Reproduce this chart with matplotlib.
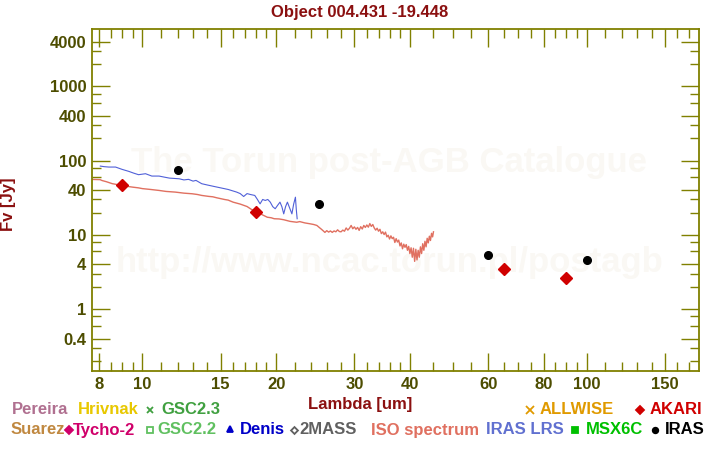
import matplotlib

matplotlib.use("Agg")
import matplotlib.pyplot as plt
from matplotlib.lines import Line2D
from matplotlib.ticker import FixedLocator, FixedFormatter, NullFormatter

# ISO spectrum
iso_wl = [7.7, 8.03, 8.11, 8.3, 8.55, 8.8, 9.16, 9.5, 9.8, 10.0, 10.4, 10.9, 11.3, 11.86,
          12.4, 12.94, 13.3, 13.6, 14.1, 14.4, 14.7, 15.3, 15.6, 16.0, 16.6, 17.2, 17.6,
          17.96, 18.5, 19.1, 19.5, 19.8, 20.3, 20.8, 21.5, 22.25, 22.6, 23.2, 23.85, 24.3,
          24.7,
          25.0, 25.25, 25.5, 25.75, 26.0, 26.25, 26.5, 26.75, 27.0, 27.25, 27.5, 27.75,
          28.0, 28.25, 28.5, 28.75, 29.0, 29.25, 29.5, 29.75, 30.0, 30.25, 30.5, 30.75,
          31.0, 31.25, 31.5, 31.75, 32.0, 32.25, 32.5, 32.75, 33.0, 33.25, 33.5, 33.75,
          34.0, 34.25, 34.5, 34.75, 35.0, 35.25, 35.5, 35.75, 36.0, 36.25, 36.5, 36.75,
          37.0, 37.25, 37.5, 37.75, 38.0, 38.25, 38.5, 38.75, 39.0, 39.25, 39.5, 39.75,
          40.0, 40.25, 40.5, 40.75, 41.0, 41.25, 41.5, 41.75, 42.0, 42.25, 42.5, 42.75,
          43.0, 43.25, 43.5, 43.75, 44.0, 44.25, 44.5, 44.75, 45.0, 45.2]
iso_fv = [55.9, 55.5, 54.0, 52.0, 49.0, 47.5, 45.4, 44.0, 43.0, 42.0, 41.0, 39.7, 38.5, 37.7,
          36.5, 35.8, 35.0, 34.0, 33.0, 32.6, 31.6, 30.0, 29.4, 27.6, 26.0, 24.1, 22.0,
          20.5, 19.0, 17.3, 17.0, 16.5, 16.4, 16.0, 15.2, 14.8, 15.1, 14.5, 14.1, 13.8,
          13.4,
          12.6, 12.0, 11.4, 10.8, 11.4, 10.9, 11.3, 10.8, 11.3, 11.0, 11.7, 11.1,
          11.0, 11.6, 11.2, 12.4, 11.6, 12.3, 13.4, 12.1, 12.8, 11.9, 12.6, 11.5,
          12.9, 12.0, 13.4, 12.6, 13.6, 12.7, 14.2, 13.0, 13.8, 12.4, 11.6, 12.3,
          11.2, 11.9, 10.4, 11.0, 10.1, 10.9, 9.4, 9.9, 8.8, 9.7, 8.9, 9.3,
          7.9, 8.9, 8.0, 8.5, 7.1, 7.8, 6.5, 7.5, 6.8, 7.4, 6.2, 7.0,
          5.6, 6.7, 5.0, 6.6, 4.4, 6.4, 4.6, 6.2, 5.0, 6.9, 5.6, 7.6,
          6.2, 8.2, 6.9, 9.0, 7.8, 9.6, 8.4, 10.5, 9.4, 11.0]

# IRAS LRS spectrum
lrs_wl = [8.04, 8.2, 8.4, 8.7, 9.0, 9.32, 9.55, 9.8, 10.16, 10.5, 10.9, 11.2, 11.5, 12.1,
          12.4, 12.7, 13.0, 13.2, 13.6, 14.0, 14.5, 15.0, 15.6, 16.3, 16.6, 16.9, 17.2,
          17.5, 17.9, 18.15, 18.4, 18.65, 18.9, 19.15, 19.4, 19.65, 19.9, 20.15, 20.4,
          20.6, 20.8, 21.0, 21.2, 21.45, 21.7, 21.9, 22.1, 22.2, 22.3]
lrs_fv = [84.5, 83.0, 82.0, 82.0, 76.3, 71.7, 68.0, 64.7, 66.7, 62.0, 62.0, 60.0, 58.2, 57.0,
          55.0, 56.0, 53.0, 54.2, 48.9, 47.0, 44.9, 43.0, 40.9, 37.7, 36.0, 32.9, 36.0,
          35.0, 34.0, 30.0, 26.2, 30.0, 29.1, 30.0, 27.6, 24.0, 22.5, 25.0, 27.6,
          24.0, 19.2, 24.0, 27.6, 23.0, 19.2, 26.0, 32.2, 22.0, 16.5]

# photometry
iras_wl = [12, 25, 60, 100]
iras_fv = [75.5, 26.2, 5.37, 4.59]
akari_wl = [9, 18, 65, 90]
akari_fv = [47.4, 20.5, 3.47, 2.62]

x_major = [8, 10, 15, 20, 30, 40, 60, 80, 100, 150]
x_minor = [8.5, 9, 9.5, 11, 12, 13, 14, 16, 17, 18, 19, 22, 24, 26, 28, 32, 34, 36, 38,
           45, 50, 55, 65, 70, 75, 85, 90, 95, 110, 120, 130, 140, 160, 170]
y_major = [0.4, 1, 4, 10, 40, 100, 400, 1000, 4000]
y_labels = ["0.4", "1", "4", "10", "40", "100", "400", "1000", "4000"]
y_minor = [0.2, 0.3, 0.6, 0.8, 2, 3, 6, 8, 20, 30, 60, 80, 200, 300, 600, 800, 2000, 3000]

FONT = ["Liberation Sans", "DejaVu Sans"]
plt.rcParams["font.family"] = FONT
plt.rcParams["font.weight"] = "bold"

OLIVE = "#808000"
LABEL = "#4d4d00"
DARKRED = "#8b1010"

fig = plt.figure(figsize=(7.2, 4.5), dpi=100)
ax = fig.add_axes([92 / 720, 1 - 371 / 450, (699 - 92) / 720, (371 - 29) / 450])

# watermark
ax.text(0.49, 0.61, "The Torun post-AGB Catalogue", transform=ax.transAxes, ha="center",
        va="center", fontsize=25, color="#faf8f4", zorder=0)
ax.text(0.49, 0.318, "http://www.ncac.torun.pl/postagb", transform=ax.transAxes, ha="center",
        va="center", fontsize=25, color="#faf8f4", zorder=0)

ax.plot(iso_wl, iso_fv, color="#e07060", lw=1.0, zorder=2)
ax.plot(lrs_wl, lrs_fv, color="#5060d8", lw=0.8, zorder=2)
ax.plot(iras_wl, iras_fv, "o", color="black", ms=5.5, zorder=3, ls="none")
ax.plot(akari_wl, akari_fv, "D", color="#d00000", ms=6, zorder=3, ls="none")

ax.set_xscale("log")
ax.set_yscale("log")
ax.set_xlim(7.7, 179)
ax.set_ylim(0.1466, 5940)

ax.xaxis.set_major_locator(FixedLocator(x_major))
ax.xaxis.set_major_formatter(FixedFormatter([str(v) for v in x_major]))
ax.xaxis.set_minor_locator(FixedLocator(x_minor))
ax.xaxis.set_minor_formatter(NullFormatter())
ax.yaxis.set_major_locator(FixedLocator(y_major))
ax.yaxis.set_major_formatter(FixedFormatter(y_labels))
ax.yaxis.set_minor_locator(FixedLocator(y_minor))
ax.yaxis.set_minor_formatter(NullFormatter())

ax.tick_params(which="both", direction="in", top=True, right=True, color=OLIVE,
               labelcolor=LABEL, labelsize=12)
ax.tick_params(which="major", length=13, width=1.0, pad=4)
ax.tick_params(which="minor", length=6.5, width=1.0)
for lab in ax.get_xticklabels() + ax.get_yticklabels():
    lab.set_fontweight("bold")
for sp in ax.spines.values():
    sp.set_color(OLIVE)
    sp.set_linewidth(1.3)

fig.text(360 / 720, 1 - 12 / 450, "Object 004.431 -19.448", ha="center", va="center",
         fontsize=12, fontweight="bold", color=DARKRED)
fig.text(360 / 720, 1 - 405 / 450, "Lambda [um]", ha="center", va="center",
         fontsize=12, fontweight="bold", color=DARKRED)
fig.text(9 / 720, 1 - 204 / 450, "Fv [Jy]", ha="center", va="center", rotation=90,
         fontsize=12, fontweight="bold", color=DARKRED)

# legend row texts: (label, left x px, centre y px, colour)
legend_items = [
    ("Pereira", 12, 410, "#b07090"),
    ("Hrivnak", 78, 410, "#e8c800"),
    ("GSC2.3", 161, 410, "#40a040"),
    ("ALLWISE", 540, 410, "#e09a00"),
    ("AKARI", 650, 410, "#d00000"),
    ("Suarez", 11, 430, "#c08840"),
    ("Tycho-2", 73, 430, "#d0006a"),
    ("GSC2.2", 157, 430, "#60c060"),
    ("Denis", 240, 430, "#0000c8"),
    ("2MASS", 299, 430, "#606060"),
    ("ISO spectrum", 371, 430, "#e07060"),
    ("IRAS LRS", 486, 430, "#6070d0"),
    ("MSX6C", 586, 430, "#00c000"),
    ("IRAS", 665, 430, "#000000"),
]
for name, x, y, c in legend_items:
    fig.text(x / 720, 1 - y / 450, name, ha="left", va="center", fontsize=12,
             fontweight="bold", color=c)

# legend symbols: (marker, x px, y px, colour, size, filled)
legend_marks = [
    ("x", 150, 410, "#40a040", 5, True),
    ("x", 530, 410, "#e09a00", 6, True),
    ("D", 640, 410, "#d00000", 4, True),
    ("D", 69, 430, "#d0006a", 4, True),
    ("s", 150, 430, "#60c060", 4, False),
    ("^", 230, 429, "#0000c8", 5, True),
    ("D", 294, 430, "#606060", 3.5, False),
    ("s", 575, 430, "#00c000", 5, True),
    ("o", 655, 430, "#000000", 4, True),
]
for m, x, y, c, s, filled in legend_marks:
    fig.add_artist(Line2D([x / 720], [1 - y / 450], marker=m, color=c, ms=s,
                          mfc=c if filled else "none", mec=c, mew=1.3,
                          ls="none", transform=fig.transFigure))

fig.savefig("out.png", dpi=100, facecolor="white")
